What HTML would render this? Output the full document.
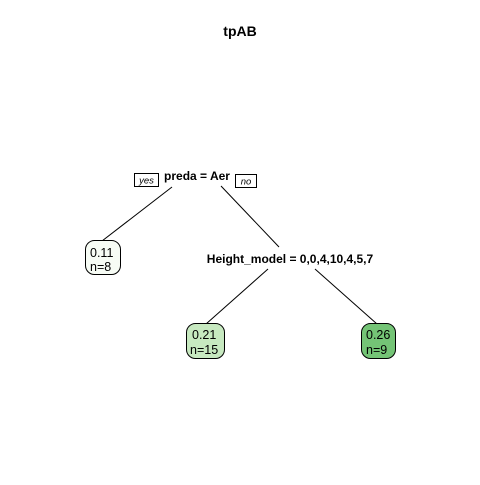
<!DOCTYPE html>
<html><head><style>body{margin:0;background:#fff}</style></head><body>
<svg width="480" height="480" xmlns="http://www.w3.org/2000/svg" font-family="Liberation Sans, Arial, sans-serif">
<rect width="480" height="480" fill="#fff"/>
<text x="240" y="36" text-anchor="middle" font-weight="bold" font-size="14">tpAB</text>
<g stroke="#000" stroke-width="1" fill="none">
<line x1="172" y1="187" x2="102" y2="241"/>
<line x1="221" y1="186" x2="279" y2="247"/>
<line x1="268" y1="269" x2="206" y2="324"/>
<line x1="315" y1="269" x2="377" y2="324"/>
</g>
<rect x="134.5" y="173.5" width="24" height="13" fill="#fff" stroke="#000"/>
<text x="146.5" y="183.5" text-anchor="middle" font-style="italic" font-size="9.5">yes</text>
<rect x="235.5" y="174.5" width="21" height="13" fill="#fff" stroke="#000"/>
<text x="246" y="184.5" text-anchor="middle" font-style="italic" font-size="9.5">no</text>
<text x="197" y="180" text-anchor="middle" font-weight="bold" font-size="12">preda = Aer</text>
<text x="290" y="263" text-anchor="middle" font-weight="bold" font-size="12">Height_model = 0,0,4,10,4,5,7</text>
<rect x="85.5" y="240.5" width="35" height="34" rx="9" fill="#f7fcf5" stroke="#000"/>
<text x="90" y="257" font-size="12.5">0.11</text>
<text x="90" y="271" font-size="12.5">n=8</text>
<rect x="186.5" y="323.5" width="38" height="35" rx="9" fill="#c7e9c0" stroke="#000"/>
<text x="192" y="339" font-size="12.5">0.21</text>
<text x="190" y="354" font-size="12.5">n=15</text>
<rect x="361.5" y="323.5" width="34" height="35" rx="9" fill="#74c476" stroke="#000"/>
<text x="366" y="339" font-size="12.5">0.26</text>
<text x="366" y="354" font-size="12.5">n=9</text>
</svg>
</body></html>
